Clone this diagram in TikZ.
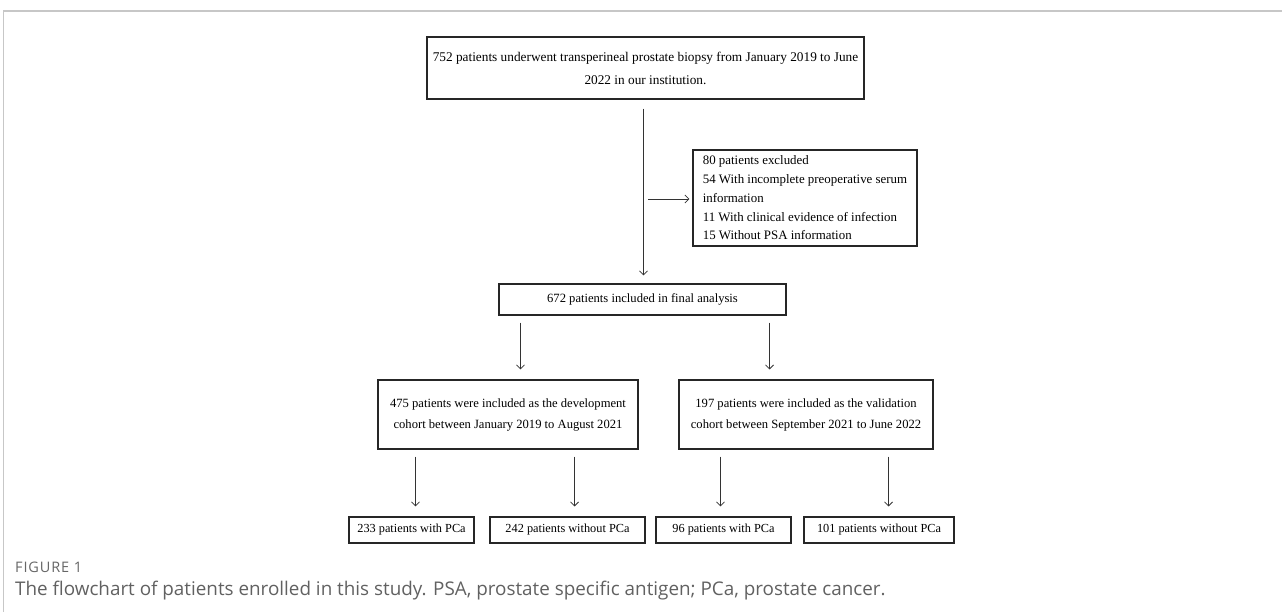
\documentclass[tikz,border=0pt]{standalone}
\usepackage{fontspec}
\setmainfont{Liberation Serif}
\newfontfamily\capfont{Open Sans}
\usetikzlibrary{arrows.meta}
\tikzset{
  box/.style={draw=black!85, line width=1.1pt, inner sep=0pt, font=\fontsize{12.6}{21}\selectfont},
  small/.style={font=\fontsize{12.3}{15}\selectfont},
  arr/.style={draw=black!80, line width=0.8pt, -{Straight Barb[length=4pt,width=8pt]}},
  frame/.style={draw=black!22, line width=1.5pt}
}
\begin{document}
\begin{tikzpicture}[x=1pt,y=-1pt]
\useasboundingbox (0,0) rectangle (1282,612);
\draw[frame] (1282,11) -- (3.5,11) -- (3.5,612);

\node[box, minimum width=437pt, minimum height=62pt, align=center, font=\fontsize{13.3}{23}\selectfont] (b1) at (645.5,68)
  {752 patients underwent transperineal prostate biopsy from January 2019 to June\\2022 in our institution.};
\node[box, minimum width=224pt, minimum height=96pt, align=left, font=\fontsize{12.9}{18.8}\selectfont] (ex) at (805,198)
  {80 patients excluded\\54 With incomplete preoperative serum\\information\\11 With clinical evidence of infection\\15 Without PSA information};
\node[box, minimum width=287pt, minimum height=31pt] (mid) at (642.5,299.5)
  {672 patients included in final analysis};
\node[box, minimum width=260pt, minimum height=69pt, align=center] (dev) at (508,414.5)
  {475 patients were included as the development\\cohort between January 2019 to August 2021};
\node[box, minimum width=254pt, minimum height=69pt, align=center] (val) at (806,414.5)
  {197 patients were included as the validation\\cohort between September 2021 to June 2022};
\node[box, small, minimum width=125pt, minimum height=26pt] (d1) at (411.5,530) {233 patients with PCa};
\node[box, small, minimum width=155pt, minimum height=26pt] (d2) at (567.5,530) {242 patients without PCa};
\node[box, small, minimum width=135pt, minimum height=26pt] (v1) at (723.5,530) {96 patients with PCa};
\node[box, small, minimum width=150pt, minimum height=26pt] (v2) at (879,530) {101 patients without PCa};

\draw[arr, shorten <=9pt, shorten >=8pt] ([xshift=-2pt]b1.south) -- ([xshift=-2pt]b1.south |- mid.north);
\coordinate (sidestart) at (648,199);
\draw[arr, shorten >=3pt] (sidestart) -- (sidestart -| ex.west);

\draw[arr, shorten <=7pt, shorten >=10pt] ([xshift=22pt]mid.south west) -- ([xshift=22pt]mid.south west |- dev.north);
\draw[arr, shorten <=7pt, shorten >=10pt] ([xshift=-17pt]mid.south east) -- ([xshift=-17pt]mid.south east |- val.north);

\draw[arr, shorten <=7pt, shorten >=10pt] ([xshift=38pt]dev.south west) -- ([xshift=38pt]dev.south west |- d1.north);
\draw[arr, shorten <=7pt, shorten >=10pt] ([xshift=-64pt]dev.south east) -- ([xshift=-64pt]dev.south east |- d2.north);
\draw[arr, shorten <=7pt, shorten >=10pt] ([xshift=42pt]val.south west) -- ([xshift=42pt]val.south west |- v1.north);
\draw[arr, shorten <=7pt, shorten >=10pt] ([xshift=-45pt]val.south east) -- ([xshift=-45pt]val.south east |- v2.north);

\node[anchor=base west, inner sep=0pt, text=black!60, font=\capfont\fontsize{14.5}{16}\selectfont\addfontfeature{LetterSpace=6}] (fig) at (15,572) {FIGURE 1};
\node[anchor=base west, inner sep=0pt, text=black!62, font=\capfont\fontsize{18.85}{22}\selectfont] (cap) at (15,595)
  {The flowchart of patients enrolled in this study. PSA, prostate specific antigen; PCa, prostate cancer.};
\end{tikzpicture}
\end{document}
